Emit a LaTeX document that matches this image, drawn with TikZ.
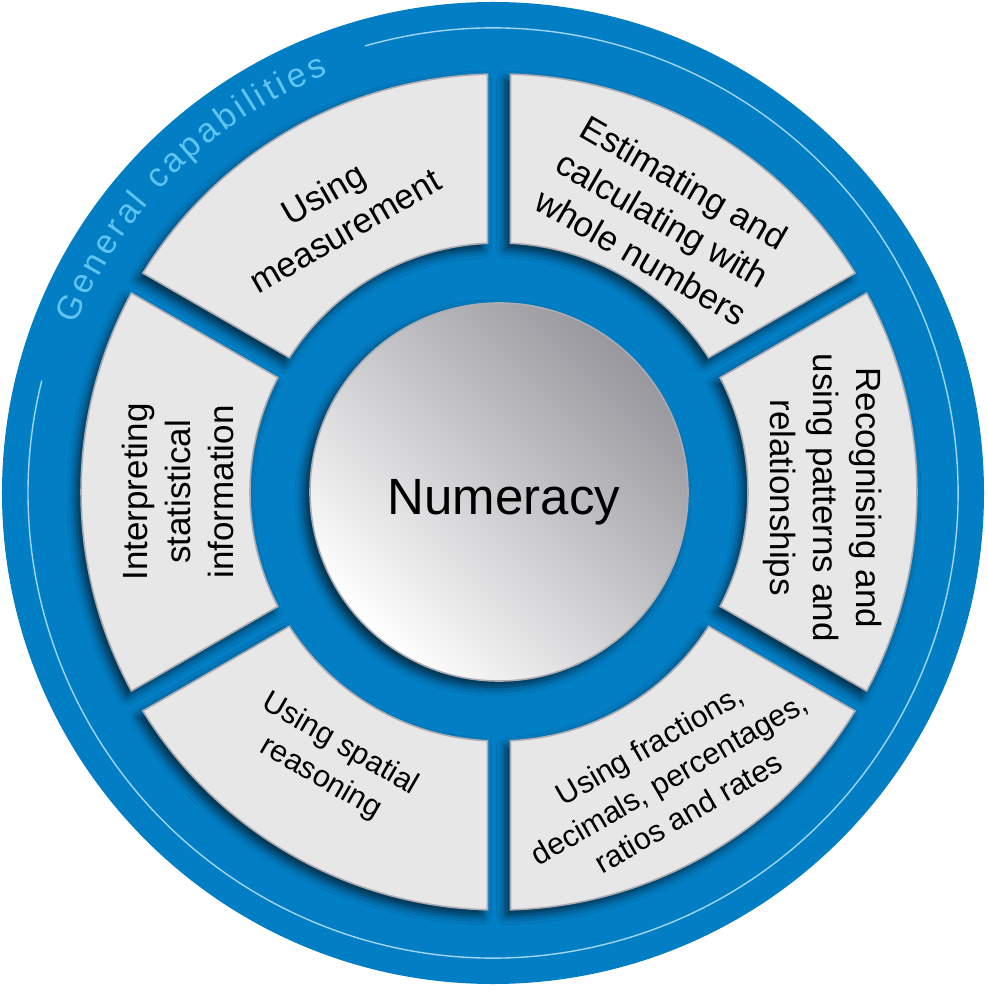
\documentclass[tikz,border=0pt]{standalone}
\usepackage{fontspec}
\setmainfont{Liberation Sans}
\usepackage{xcolor}
\usepackage{tikz}
\usetikzlibrary{shadows.blur, decorations.text}

\definecolor{ringblue}{RGB}{2,126,197}
\definecolor{ringline}{RGB}{160,214,242}
\definecolor{capblue}{RGB}{96,196,240}
\definecolor{seggray}{RGB}{231,231,232}
\definecolor{segline}{RGB}{172,172,178}
\definecolor{hubgray}{RGB}{152,151,157}

\newcommand{\segfont}{\fontsize{35}{43}\selectfont}
\newcommand{\smallsegfont}{\fontsize{30.5}{39}\selectfont}
\newcommand{\capfont}{\fontsize{34}{34}\selectfont}

\begin{document}
\begin{tikzpicture}[
    x=1pt, y=1pt,
    segbox/.style={fill=seggray, draw=segline, line width=1.6pt,
                   blur shadow={shadow xshift=-5pt, shadow yshift=-6pt,
                                shadow blur radius=9pt, shadow opacity=65}},
    hubbox/.style={draw=segline, line width=1.6pt,
                   top color=hubgray, bottom color=white, shading angle=-45,
                   blur shadow={shadow xshift=-6pt, shadow yshift=-6pt,
                                shadow blur radius=9pt, shadow opacity=65}},
    lbl/.style={font=\segfont, align=center, text=black, inner sep=0pt},
    smalllbl/.style={lbl, font=\smallsegfont},
    hublbl/.style={font=\fontsize{51}{51}\selectfont, text=black, inner sep=0pt},
]
\useasboundingbox (-499,-508) rectangle (488,492);

%% -- outer ring -------------------------------------------------------
\coordinate (oc) at (-6,-1);
\fill[ringblue] (oc) circle[radius=491pt];
\draw[ringline, line width=1.4pt]
    ([shift={(oc)}]106:465pt) arc[start angle=106, end angle=-194, radius=465pt];
\path[decorate, decoration={text along path, text align={fit to path},
        text color=capblue, text={|\capfont|General capabilities}}]
    ([shift={(oc)}]158:450pt) arc[start angle=158, end angle=111.5, radius=450pt];

%% -- six segments (gaps kept parallel) --------------------------------
\foreach \a in {0,60,...,300}{
  \draw[segbox] (\a-28.42:418pt) arc[start angle=\a-28.42, end angle=\a+28.42, radius=418pt]
      -- (\a+27.35:249pt) arc[start angle=\a+27.35, end angle=\a-27.35, radius=249pt]
      -- cycle;
}

%% -- centre -----------------------------------------------------------
\path[hubbox] (0,0) circle[radius=189pt];
\node[hublbl, anchor=base] (hub) at (5,-23) {Numeracy};

%% -- segment labels ---------------------------------------------------
\node[lbl, rotate=30]       (meas)   at (120.5:325pt) {Using\\measurement};
\node[lbl, rotate=-30]      (est)    at (59:318pt)    {Estimating and\\calculating with\\whole numbers};
\node[lbl, rotate=-90]      (recog)  at (-1:324pt)    {Recognising and\\using patterns and\\relationships};
\node[smalllbl, rotate=30]  (frac)   at (-59.3:333pt) {Using fractions,\\decimals, percentages,\\ratios and rates};
\node[smalllbl, rotate=-30] (spat)   at (-122:318pt)  {Using spatial\\reasoning};
\node[lbl, rotate=90]       (interp) at (180:321pt)   {Interpreting\\statistical\\information};

\end{tikzpicture}
\end{document}
